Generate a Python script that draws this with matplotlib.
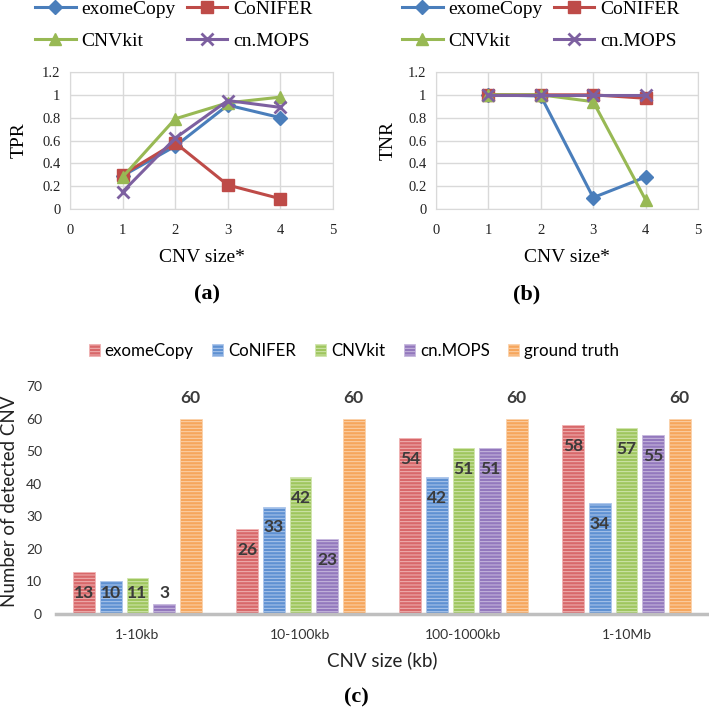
import numpy as np
import matplotlib
matplotlib.use("Agg")
import matplotlib.pyplot as plt

# --- data ---------------------------------------------------------------
methods = ["exomeCopy", "CoNIFER", "CNVkit", "cn.MOPS"]
cnv_size = [1, 2, 3, 4]

tpr_exomecopy = [0.29, 0.55, 0.91, 0.80]
tpr_conifer = [0.30, 0.58, 0.21, 0.09]
tpr_cnvkit = [0.28, 0.79, 0.93, 0.98]
tpr_cnmops = [0.15, 0.62, 0.95, 0.89]

tnr_exomecopy = [1.0, 0.99, 0.10, 0.28]
tnr_conifer = [1.0, 1.0, 1.0, 0.97]
tnr_cnvkit = [1.0, 1.0, 0.94, 0.08]
tnr_cnmops = [1.0, 1.0, 1.0, 1.0]

size_bins = ["1-10kb", "10-100kb", "100-1000kb", "1-10Mb"]
bar_series = ["exomeCopy", "CoNIFER", "CNVkit", "cn.MOPS", "ground truth"]
det_exomecopy = [13, 26, 54, 58]
det_conifer = [10, 33, 42, 34]
det_cnvkit = [11, 42, 51, 57]
det_cnmops = [3, 23, 51, 55]
det_truth = [60, 60, 60, 60]

# --- styles -------------------------------------------------------------
line_colors = ["#4A7EBB", "#BE4B48", "#98B954", "#7D60A0"]
markers = ["D", "s", "^", "x"]
msizes = [7, 9, 9, 9]
bar_face = ["#D8686A", "#5F91D2", "#9FC65E", "#9378BD", "#F6A65C"]
bar_stripe = ["#F0B4B4", "#AFC8EC", "#D2E6B0", "#C9BADF", "#FBD3AC"]

W, H = 709, 713
fig = plt.figure(figsize=(W / 100, H / 100), dpi=100)
serif = ["Liberation Serif", "DejaVu Serif"]
sans = ["Lato", "DejaVu Sans"]
plt.rcParams["hatch.linewidth"] = 0.7


def px_axes(x0, y0, x1, y1):
    return fig.add_axes([x0 / W, 1 - y1 / H, (x1 - x0) / W, (y1 - y0) / H])


def line_panel(ax, series, ylabel, lab_x, leg_x, tag, tag_x):
    for vals, c, m, ms in zip(series, line_colors, markers, msizes):
        ax.plot(cnv_size, vals, color=c, lw=2.2, marker=m, markersize=ms,
                markerfacecolor=c, markeredgecolor=c, markeredgewidth=2 if m == "x" else 1)
    ax.set_xlim(0, 5)
    ax.set_ylim(0, 1.2)
    ax.set_xticks(range(6))
    ax.set_yticks(np.arange(0, 1.21, 0.2))
    ax.set_yticklabels(["0", "0.2", "0.4", "0.6", "0.8", "1", "1.2"])
    ax.grid(True, color="#D9D9D9", lw=1)
    ax.set_axisbelow(True)
    for s in ax.spines.values():
        s.set_color("#D9D9D9")
    ax.tick_params(length=0, labelsize=10.5, colors="#222222")
    ax.tick_params(axis="x", pad=11)
    ax.tick_params(axis="y", pad=7)
    for t in ax.get_xticklabels() + ax.get_yticklabels():
        t.set_family(serif)
    bb = ax.get_position()
    fig.text(lab_x / W, (bb.y0 + bb.y1) / 2, ylabel, rotation=90, ha="center",
             va="center", family=serif, fontsize=14)
    fig.text((bb.x0 + bb.x1) / 2, 1 - 257 / H, "CNV size*", ha="center",
             va="center", family=serif, fontsize=14)
    fig.text(tag_x / W, 1 - 294 / H, tag, ha="center", va="center",
             family=serif, fontsize=16, fontweight="bold")
    # legend fills column-wise: reorder so rows read exomeCopy/CoNIFER, CNVkit/cn.MOPS
    lines = ax.get_lines()
    order = [0, 2, 1, 3]
    fig.legend([lines[i] for i in order], [methods[i] for i in order],
               ncol=2, loc="upper left",
               bbox_to_anchor=(leg_x / W, 1.0), frameon=False,
               prop={"family": serif, "size": 14}, borderpad=0,
               borderaxespad=0, handlelength=2.1, handletextpad=0.3,
               columnspacing=0.55, labelspacing=0.75)


ax_a = px_axes(70, 72, 333, 209)
line_panel(ax_a, [tpr_exomecopy, tpr_conifer, tpr_cnvkit, tpr_cnmops],
           "TPR", 19, 35, "(a)", 207)

ax_b = px_axes(436, 72, 698, 209)
line_panel(ax_b, [tnr_exomecopy, tnr_conifer, tnr_cnvkit, tnr_cnmops],
           "TNR", 388, 402, "(b)", 527)

# --- panel (c) ----------------------------------------------------------
ax_c = px_axes(56, 386, 708, 614)
x = np.arange(len(size_bins))
pitch = 0.163
width = 0.134
all_vals = [det_exomecopy, det_conifer, det_cnvkit, det_cnmops, det_truth]
bars = []
for i, (vals, fc, sc) in enumerate(zip(all_vals, bar_face, bar_stripe)):
    pos = x + (i - 2) * pitch
    b = ax_c.bar(pos, vals, width, color=fc, edgecolor=sc, lw=0.6,
                 hatch="-----", label=bar_series[i])
    bars.append(b)
    for xp, v in zip(pos, vals):
        if i == 4:
            y = v + 6.4
        else:
            y = max(v - 6.4, 6.4)
        ax_c.text(xp, y, str(v), ha="center", va="center", family=sans,
                  fontsize=12.5, fontweight="bold", color="#3B3B3B")

ax_c.set_xlim(-0.5, 3.5)
ax_c.set_ylim(0, 70)
ax_c.set_yticks(range(0, 71, 10))
ax_c.set_xticks(x)
ax_c.set_xticklabels(size_bins)
for s in ["top", "right", "left"]:
    ax_c.spines[s].set_visible(False)
ax_c.spines["bottom"].set_color("#BFBFBF")
ax_c.spines["bottom"].set_linewidth(2.5)
ax_c.tick_params(length=0, labelsize=10, colors="#333333")
ax_c.tick_params(axis="x", pad=11)
ax_c.tick_params(axis="y", pad=10)
for t in ax_c.get_xticklabels() + ax_c.get_yticklabels():
    t.set_family(sans)

fig.text(10 / W, 1 - 501 / H, "Number of detected CNV", rotation=90,
         ha="center", va="center", family=sans, fontsize=13.5, color="#222222")
fig.text(382 / W, 1 - 660 / H, "CNV size (kb)", ha="center", va="center",
         family=sans, fontsize=13.5, color="#222222")
fig.text(356 / W, 1 - 697 / H, "(c)", ha="center", va="center",
         family=serif, fontsize=16, fontweight="bold")

fig.legend(handles=bars, labels=bar_series, ncol=5, loc="center",
           bbox_to_anchor=(354 / W, 1 - 351 / H), frameon=False,
           prop={"family": sans, "size": 12.2}, handlelength=0.65,
           handleheight=0.65, handletextpad=0.3, columnspacing=1.1,
           borderpad=0)

fig.savefig("out.png", dpi=100)
